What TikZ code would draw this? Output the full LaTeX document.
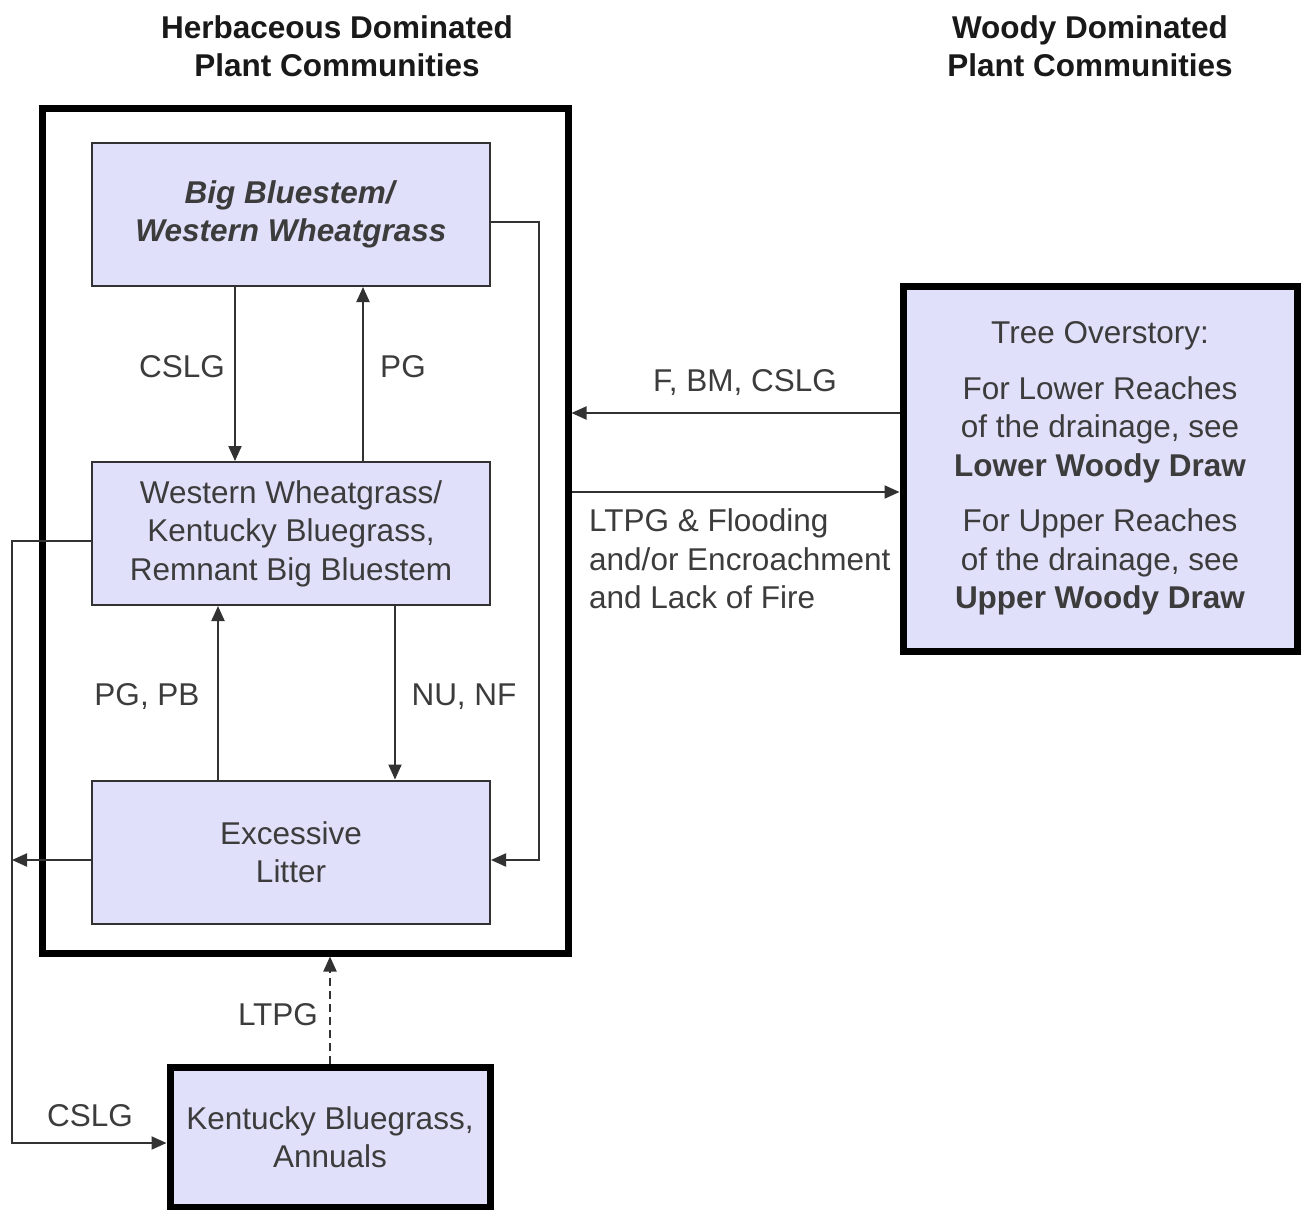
\documentclass[tikz,border=0pt]{standalone}
\usepackage{fontspec}
\setmainfont{Liberation Sans}
\usetikzlibrary{arrows.meta}
\definecolor{boxfill}{RGB}{224,224,250}
\definecolor{txt}{RGB}{60,60,60}
\definecolor{ln}{RGB}{50,50,50}
\begin{document}
\begin{tikzpicture}[x=1pt,y=-1pt,
  every node/.style={font=\fontsize{31.5}{38.5}\selectfont, text=txt},
  inbox/.style={draw=ln, line width=2pt, fill=boxfill, minimum width=398pt, minimum height=143pt, align=center, inner sep=0pt},
  thickbox/.style={draw=black, line width=7pt, fill=boxfill, align=center, inner sep=0pt},
  arr/.style={draw=ln, line width=2pt, -{Triangle[length=15pt,width=13pt]}},
  dasharr/.style={arr, dash pattern=on 8pt off 5pt},
  lbl/.style={inner sep=0pt},
  title/.style={font=\fontsize{31.5}{38.5}\selectfont\bfseries, text=black!90, align=center}
]
\useasboundingbox (0,0) rectangle (1302,1210);
\fill[white] (0,0) rectangle (1302,1210);

\node[title] (t1) at (337,46) {Herbaceous Dominated\\Plant Communities};
\node[title] (t2) at (1090,46) {Woody Dominated\\Plant Communities};

\node[draw=black, line width=7pt, minimum width=526pt, minimum height=845pt, inner sep=0pt] (outer) at (305,530.5) {};

\node[inbox] (b1) at (291,214.5) {\textbf{\textit{Big Bluestem/}}\\\textbf{\textit{Western Wheatgrass}}};
\node[inbox] (b2) at (291,533.5) {Western Wheatgrass/\\Kentucky Bluegrass,\\Remnant Big Bluestem};
\node[inbox] (b3) at (291,852) {Excessive\\Litter};
\node[thickbox, minimum width=320pt, minimum height=140pt] (b4) at (330,1137) {Kentucky Bluegrass,\\Annuals};
\node[thickbox, minimum width=394pt, minimum height=365pt] (rb) at (1100,468.5)
  {Tree Overstory:\\[17pt]For Lower Reaches\\of the drainage, see\\\textbf{Lower Woody Draw}\\[17pt]For Upper Reaches\\of the drainage, see\\\textbf{Upper Woody Draw}};

% vertical arrows between inner boxes
\draw[arr] ([xshift=-56pt]b1.south) -- ([xshift=-56pt]b2.north);
\draw[arr] ([xshift=72pt]b2.north) -- ([xshift=72pt]b1.south);
\draw[arr] ([xshift=-73pt]b3.north) -- ([xshift=-73pt]b2.south);
\draw[arr] ([xshift=104pt]b2.south) -- ([xshift=104pt]b3.north);

\node[lbl] (l1) at (182,367) {CSLG};
\node[lbl] (l2) at (403,367) {PG};
\node[lbl] (l3) at (147,697) {PG, PB};
\node[lbl] (l4) at (464,697) {NU, NF};

% right loop b1 -> b3
\draw[arr] ([yshift=-7.5pt]b1.east) -- ++(48,0) |- ([yshift=-8pt]b3.east);

% left loop b2 -> b4, b3 -> left line
\coordinate (lx) at (12,860);
\draw[arr] ([yshift=-7.5pt]b2.west) -| (12,1143) -- ([yshift=-6pt]b4.west);
\draw[arr] ([yshift=-8pt]b3.west) -- (lx);
\node[lbl] (l5) at (90,1116) {CSLG};

% dashed LTPG
\draw[dasharr] (b4.north) -- (b4.north |- outer.south);
\node[lbl] (l6) at (278,1015) {LTPG};

% horizontal arrows to/from woody box
\draw[arr] ([yshift=55.5pt]rb.west) -- (outer.east |- 0,413);
\draw[arr] (outer.east |- 0,492) -- ([yshift=-23.5pt]rb.west);
\node[lbl] (l7) at (745,383) {F, BM, CSLG};
\node[lbl, anchor=west, align=left] (l8) at (589,559) {LTPG \& Flooding\\and/or Encroachment\\and Lack of Fire};
\end{tikzpicture}
\end{document}
